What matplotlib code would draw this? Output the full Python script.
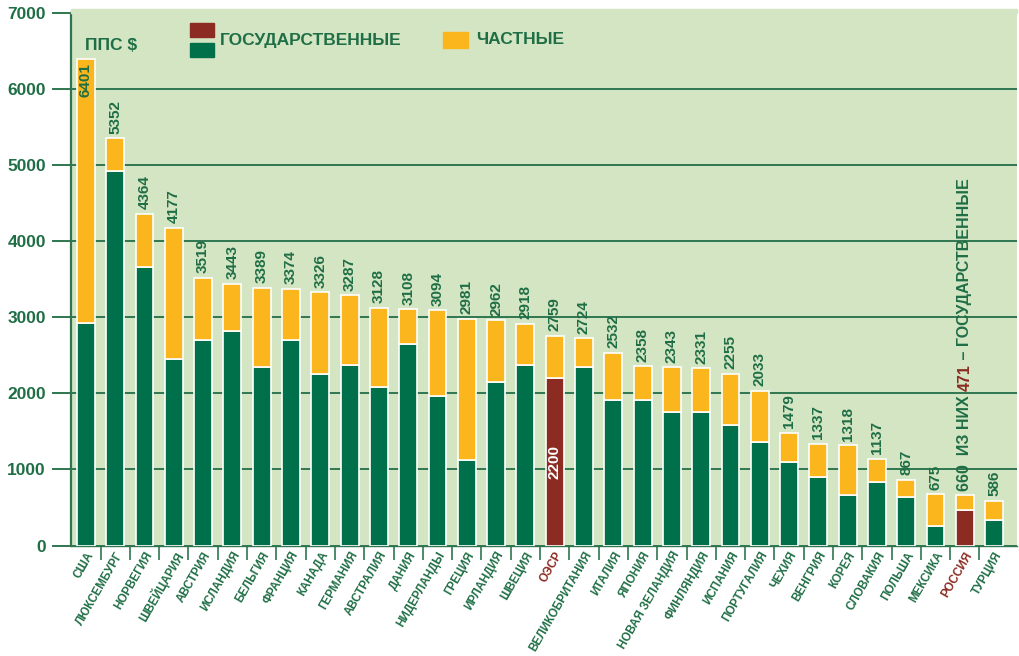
import matplotlib
matplotlib.use("Agg")
import matplotlib.pyplot as plt
import numpy as np

countries = ["США", "ЛЮКСЕМБУРГ", "НОРВЕГИЯ", "ШВЕЙЦАРИЯ", "АВСТРИЯ", "ИСЛАНДИЯ",
             "БЕЛЬГИЯ", "ФРАНЦИЯ", "КАНАДА", "ГЕРМАНИЯ", "АВСТРАЛИЯ", "ДАНИЯ",
             "НИДЕРЛАНДЫ", "ГРЕЦИЯ", "ИРЛАНДИЯ", "ШВЕЦИЯ", "ОЭСР", "ВЕЛИКОБРИТАНИЯ",
             "ИТАЛИЯ", "ЯПОНИЯ", "НОВАЯ ЗЕЛАНДИЯ", "ФИНЛЯНДИЯ", "ИСПАНИЯ", "ПОРТУГАЛИЯ",
             "ЧЕХИЯ", "ВЕНГРИЯ", "КОРЕЯ", "СЛОВАКИЯ", "ПОЛЬША", "МЕКСИКА", "РОССИЯ", "ТУРЦИЯ"]
totals = [6401, 5352, 4364, 4177, 3519, 3443, 3389, 3374, 3326, 3287, 3128, 3108,
          3094, 2981, 2962, 2918, 2759, 2724, 2532, 2358, 2343, 2331, 2255, 2033,
          1479, 1337, 1318, 1137, 867, 675, 660, 586]
public = [2930, 4920, 3660, 2450, 2705, 2820, 2340, 2705, 2255, 2375, 2080, 2655,
          1960, 1130, 2150, 2375, 2200, 2340, 1910, 1910, 1755, 1755, 1580, 1355,
          1095, 900, 662, 835, 640, 260, 471, 338]
highlight = ["ОЭСР", "РОССИЯ"]
yticks = [0, 1000, 2000, 3000, 4000, 5000, 6000, 7000]

BG = "#d4e5c3"
GREEN = "#00704a"
ORANGE = "#fbb61e"
RED = "#8b2b22"
TXT = "#1f6e45"
GRID = "#2f7650"

plt.rcParams["font.family"] = ["Liberation Sans Narrow", "Liberation Sans", "DejaVu Sans"]
plt.rcParams["font.weight"] = "bold"

W, H = 1019, 656
fig = plt.figure(figsize=(W / 100, H / 100), dpi=100)
ax = fig.add_axes([71 / W, (H - 545.5) / H, (1017 - 71) / W, (545.5 - 13) / H])
ax.set_facecolor(BG)
# light-green backdrop continues a little above the top gridline
fig.patches.append(plt.Rectangle((71 / W, (H - 13) / H), (1017 - 71) / W, 4 / H,
                                 transform=fig.transFigure, color=BG, zorder=0))

x = np.arange(len(countries))
total = np.array(totals)
pub = np.array(public)
priv = total - pub
pub_colors = [RED if c in highlight else GREEN for c in countries]

w = 0.61
ax.bar(x, pub, width=w, color=pub_colors, edgecolor="white", linewidth=1.2, zorder=3)
ax.bar(x, priv, bottom=pub, width=w, color=ORANGE, edgecolor="white", linewidth=1.2, zorder=3)

ax.set_xlim(-0.51, 31.78)
ax.set_ylim(0, 7000)
ax.set_yticks(yticks)
ax.set_yticklabels([str(v) for v in yticks], fontsize=12.5, color=TXT)
ax.grid(axis="y", color=GRID, linewidth=1.4, zorder=1)
ax.tick_params(axis="y", length=14, width=1.4, color=GRID, pad=4)

ax.set_xticks(x)
ax.set_xticklabels(countries, rotation=60, ha="right", va="top", rotation_mode="anchor",
                   fontsize=8.4)
for lbl, c in zip(ax.get_xticklabels(), countries):
    lbl.set_color(RED if c in highlight else TXT)
ax.tick_params(axis="x", which="major", length=0, pad=3)
ax.set_xticks(x[:-1] + 0.5, minor=True)
ax.tick_params(axis="x", which="minor", length=10, width=1.2, color=GRID)

for s in ["top", "right"]:
    ax.spines[s].set_visible(False)
ax.spines["left"].set_color(GRID)
ax.spines["left"].set_linewidth(1.6)
ax.spines["bottom"].set_color(GRID)
ax.spines["bottom"].set_linewidth(1.0)

# value labels above each bar
for i, (c, t) in enumerate(zip(countries, totals)):
    if c == "РОССИЯ":
        continue
    if i == 0:
        ax.text(i, t - 60, str(t), rotation=90, ha="center", va="top",
                color=TXT, fontsize=11, zorder=5)
    else:
        ax.text(i, t + 60, str(t), rotation=90, ha="center", va="bottom",
                color=TXT, fontsize=11, zorder=5)

# public value printed inside the OECD bar
i_oecd = countries.index("ОЭСР")
ax.text(i_oecd, public[i_oecd] / 2, str(public[i_oecd]), rotation=90, ha="center",
        va="center", color="white", fontsize=11, zorder=5)

# multi-coloured vertical note over the Russia bar
i_ru = countries.index("РОССИЯ")
pieces = [(f"{totals[i_ru]}  ИЗ НИХ ", TXT), (str(public[i_ru]), RED),
          (" – ГОСУДАРСТВЕННЫЕ", TXT)]
fig.canvas.draw()
renderer = fig.canvas.get_renderer()
y_disp = ax.transData.transform((i_ru, totals[i_ru] + 60))[1]
x_disp = ax.transData.transform((i_ru, 0))[0]
for txt, col in pieces:
    xd, yd = ax.transData.inverted().transform((x_disp, y_disp))
    t = ax.text(xd, yd, txt, rotation=90, ha="center", va="bottom", color=col,
                fontsize=11.5, zorder=5)
    bb = t.get_window_extent(renderer)
    y_disp = bb.y1

# unit and legend
fig.text(85 / W, (H - 46) / H, "ППС $", ha="left", va="center", color=TXT, fontsize=12.5)
fig.patches.append(plt.Rectangle((190 / W, (H - 37) / H), 24 / W, 14 / H,
                                 transform=fig.transFigure, color=RED))
fig.patches.append(plt.Rectangle((190 / W, (H - 57) / H), 24 / W, 14 / H,
                                 transform=fig.transFigure, color=GREEN))
fig.text(220 / W, (H - 40) / H, "ГОСУДАРСТВЕННЫЕ", ha="left", va="center",
         color=TXT, fontsize=12.5)
fig.patches.append(plt.Rectangle((443 / W, (H - 48) / H), 25 / W, 16 / H,
                                 transform=fig.transFigure, color=ORANGE))
fig.text(476 / W, (H - 40) / H, "ЧАСТНЫЕ", ha="left", va="center",
         color=TXT, fontsize=12.5)

fig.savefig("out.png", dpi=100, facecolor="white")
